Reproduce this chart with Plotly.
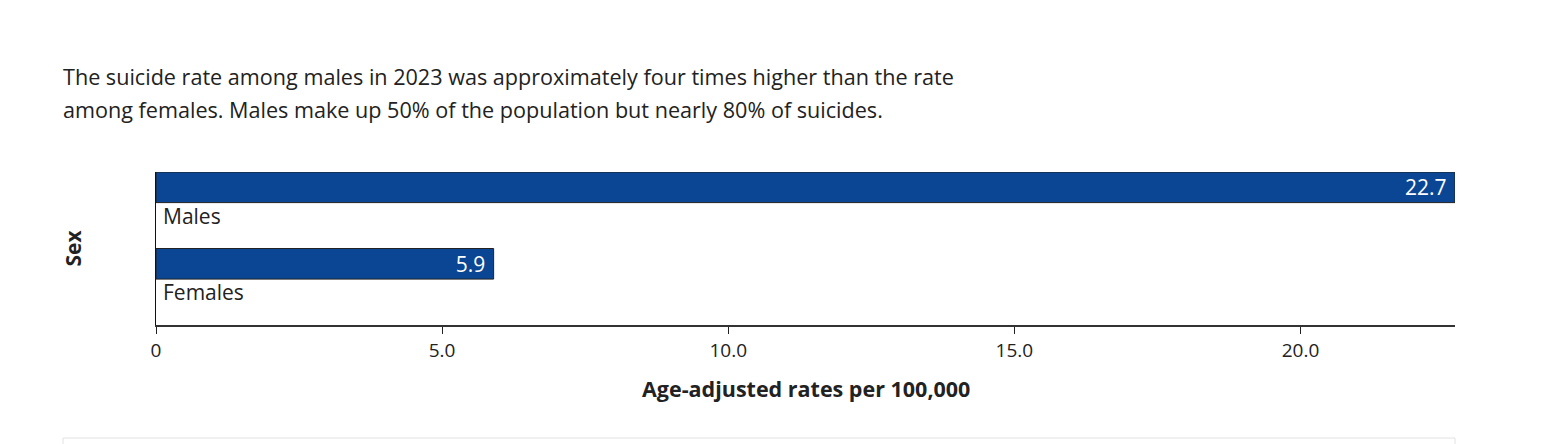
import plotly.graph_objects as go

categories = ["Males", "Females"]
rates = [22.7, 5.9]
rate_labels = ["22.7", "5.9"]
tick_vals = [0, 5, 10, 15, 20]
tick_text = ["0", "5.0", "10.0", "15.0", "20.0"]
title_lines = [
    "The suicide rate among males in 2023 was approximately four times higher than the rate",
    "among females. Males make up 50% of the population but nearly 80% of suicides.",
]
x_title = "Age-adjusted rates per 100,000"
y_title = "Sex"

FONT = "Open Sans, Lato, sans-serif"
TXT = "#222222"
W, H = 1542, 444
L, R, T, B = 156, 87, 172, 119
plot_h = H - T - B

positions = list(range(len(categories)))

fig = go.Figure()
fig.add_trace(go.Bar(
    x=rates,
    y=positions,
    orientation="h",
    width=0.4,
    offset=0,
    marker=dict(color="#0a4694", line=dict(color="#222222", width=1)),
    text=[t + "&nbsp;" for t in rate_labels],
    textposition="inside",
    insidetextanchor="end",
    constraintext="none",
    textfont=dict(color="white", size=21, family=FONT),
    hoverinfo="skip",
))

annotations = []
for i, c in enumerate(categories):
    annotations.append(dict(
        x=0, y=i + 0.57, xref="x", yref="y", text=c, showarrow=False,
        xanchor="left", yanchor="middle", xshift=5,
        font=dict(size=21, color=TXT, family=FONT),
    ))

for j, line in enumerate(title_lines):
    annotations.append(dict(
        x=(61 - L) / (W - L - R), xref="paper",
        y=1 + (T - (76 + 33 * j)) / plot_h, yref="paper",
        text=line, showarrow=False, xanchor="left", yanchor="middle",
        font=dict(size=21.6, color=TXT, family=FONT),
    ))

annotations.append(dict(
    x=(72 - L) / (W - L - R), xref="paper", y=0.5, yref="paper",
    text=f"<b>{y_title}</b>", showarrow=False, textangle=-90,
    xanchor="center", yanchor="middle",
    font=dict(size=21, color=TXT, family=FONT),
))
annotations.append(dict(
    x=0.5, xref="paper", y=(T + plot_h - 388) / plot_h, yref="paper",
    text=f"<b>{x_title}</b>", showarrow=False,
    xanchor="center", yanchor="middle",
    font=dict(size=21.5, color=TXT, family=FONT),
))

fig.update_layout(
    width=W, height=H,
    margin=dict(l=L, r=R, t=T, b=B, pad=0),
    paper_bgcolor="white", plot_bgcolor="white",
    showlegend=False,
    annotations=annotations,
    font=dict(family=FONT, color=TXT),
    shapes=[dict(
        type="rect", xref="paper", yref="paper",
        x0=(63 - L) / (W - L - R), x1=1.0,
        y0=(T + plot_h - 438) / plot_h, y1=(T + plot_h - 470) / plot_h,
        line=dict(color="#e2e2e2", width=1), fillcolor="white", layer="below",
    )],
    xaxis=dict(
        range=[0, 22.7], tickvals=tick_vals, ticktext=tick_text,
        showgrid=False, zeroline=False,
        showline=True, linecolor="#333333", linewidth=2,
        ticks="outside", ticklen=7, tickwidth=1, tickcolor="#222222",
        tickfont=dict(size=19, color=TXT, family=FONT),
        fixedrange=True,
    ),
    yaxis=dict(
        range=[2, 0], showticklabels=False, showgrid=False, zeroline=False,
        showline=True, linecolor="#111111", linewidth=1, ticks="",
        fixedrange=True,
    ),
)

fig.write_html("out.html")
